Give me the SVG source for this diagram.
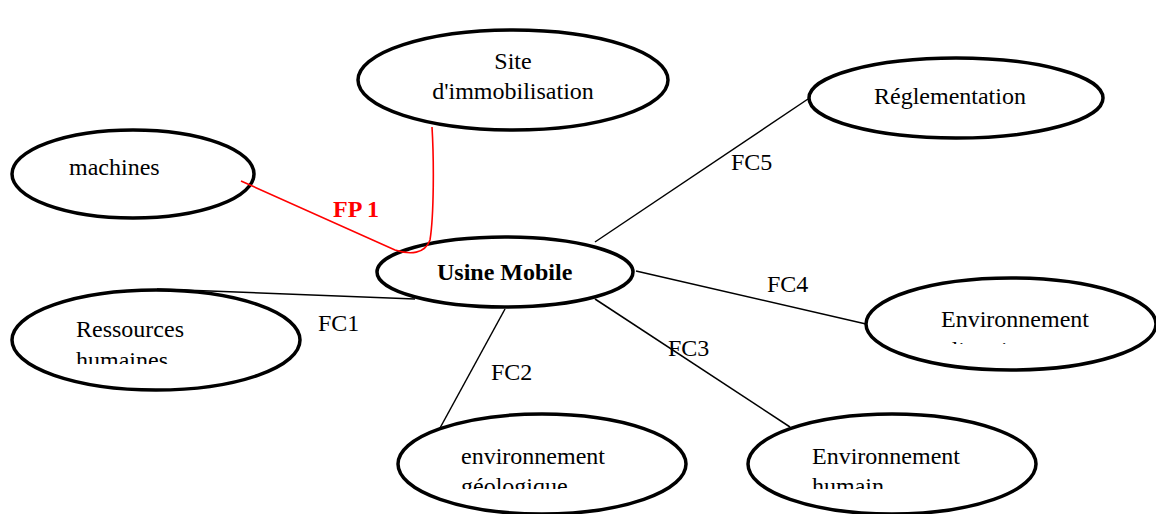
<svg xmlns="http://www.w3.org/2000/svg" width="1156" height="514" viewBox="0 0 1156 514">
<style>
.n{fill:#fff;stroke:#000;stroke-width:3.5}
.t{font-family:"Liberation Serif","Times New Roman",serif;font-size:24px;fill:#000}
.b{font-weight:bold}
.c{stroke:#000;stroke-width:1.5;fill:none}
.r{stroke:#f00;stroke-width:1.6;fill:none}
</style>
<defs>
<clipPath id="cpR"><rect x="0" y="280" width="320" height="84"/></clipPath>
<clipPath id="cpC"><rect x="860" y="270" width="296" height="74"/></clipPath>
<clipPath id="cpG"><rect x="390" y="400" width="300" height="89"/></clipPath>
<clipPath id="cpH"><rect x="740" y="400" width="300" height="89"/></clipPath>
</defs>
<rect width="1156" height="514" fill="#fff"/>
<g id="site"><ellipse class="n" cx="513" cy="80" rx="155" ry="50"/><text class="t" x="513" y="69" text-anchor="middle">Site</text><text class="t" x="513" y="99" text-anchor="middle">d'immobilisation</text></g>
<g id="reglementation"><ellipse class="n" cx="956" cy="98" rx="147" ry="40"/><text class="t" x="874" y="104">Réglementation</text></g>
<g id="machines"><ellipse class="n" cx="133" cy="174" rx="121" ry="44"/><text class="t" x="69" y="175">machines</text></g>
<g id="usine"><ellipse class="n" cx="505" cy="272" rx="128" ry="35"/><text class="t b" x="437" y="280">Usine Mobile</text></g>
<g id="ressources"><ellipse class="n" cx="156" cy="340" rx="144" ry="50"/><g clip-path="url(#cpR)"><text class="t" x="76" y="337">Ressources</text><text class="t" x="76" y="368">humaines</text></g></g>
<g id="climatique"><ellipse class="n" cx="1011" cy="324" rx="145" ry="46"/><g clip-path="url(#cpC)"><text class="t" x="941" y="327">Environnement</text><text class="t" x="941" y="358">climatique</text></g></g>
<g id="geologique"><ellipse class="n" cx="542" cy="464" rx="144" ry="50"/><g clip-path="url(#cpG)"><text class="t" x="461" y="464">environnement</text><text class="t" x="461" y="494">géologique</text></g></g>
<g id="humain"><ellipse class="n" cx="892" cy="464" rx="144" ry="50"/><g clip-path="url(#cpH)"><text class="t" x="812" y="464">Environnement</text><text class="t" x="812" y="494">humain</text></g></g>
<g id="connectors">
<line class="c" x1="595" y1="242" x2="808" y2="99"/>
<line class="c" x1="636" y1="271" x2="866" y2="324"/>
<line class="c" x1="595" y1="299" x2="790" y2="427"/>
<line class="c" x1="505" y1="309" x2="440" y2="428"/>
<line class="c" x1="157" y1="289" x2="415" y2="299"/>
<path class="r" d="M241,181 L395,250 C410,255 425,254 430,240 C434,215 434,160 432,127"/>
<text class="t" x="731" y="170">FC5</text>
<text class="t" x="767" y="292">FC4</text>
<text class="t" x="668" y="356">FC3</text>
<text class="t" x="491" y="380">FC2</text>
<text class="t" x="318" y="331">FC1</text>
<text class="t b" x="333" y="217" style="fill:#f00">FP 1</text>
</g>
</svg>
